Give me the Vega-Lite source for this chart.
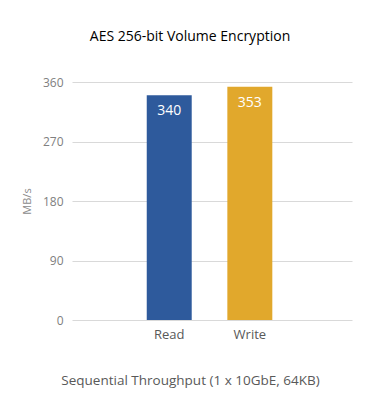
{
  "$schema": "https://vega.github.io/schema/vega-lite/v6.json",
  "width": 280,
  "height": 238,
  "autosize": {"type": "none"},
  "padding": {"left": 72, "top": 82, "right": 29, "bottom": 100},
  "background": "white",
  "title": {
    "text": "AES 256-bit Volume Encryption",
    "fontSize": 14,
    "font": "Open Sans",
    "fontWeight": "normal",
    "color": "#000000",
    "anchor": "middle",
    "dx": -22,
    "offset": 32
  },
  "data": {
    "values": [
      {"op": "Read", "value": 340},
      {"op": "Write", "value": 353}
    ]
  },
  "encoding": {
    "x": {
      "field": "op",
      "type": "nominal",
      "sort": ["Read", "Write"],
      "scale": {"paddingInner": 0.442, "paddingOuter": 0.958, "align": 0.484},
      "axis": {
        "title": "Sequential Throughput (1 x 10GbE, 64KB)",
        "titleFont": "Open Sans",
        "titleFontSize": 13.5,
        "titleFontWeight": "normal",
        "titleColor": "#595959",
        "titleX": 118,
        "titleY": 67,
        "titleAlign": "center",
        "titleBaseline": "bottom",
        "labelAngle": 0,
        "labelFont": "Open Sans",
        "labelFontSize": 13,
        "labelColor": "#595959",
        "labelPadding": 8,
        "ticks": false,
        "domain": false
      }
    },
    "y": {
      "field": "value",
      "type": "quantitative",
      "scale": {"domain": [0, 360], "nice": false},
      "axis": {
        "values": [0, 90, 180, 270, 360],
        "title": "MB/s",
        "titleFont": "Open Sans",
        "titleFontSize": 11,
        "titleFontWeight": "normal",
        "titleColor": "#8c8c8c",
        "titlePadding": 10,
        "labelFont": "Open Sans",
        "labelFontSize": 12,
        "labelColor": "#808080",
        "labelPadding": 9,
        "ticks": false,
        "domain": false,
        "gridColor": "#d9d9d9",
        "gridWidth": 1
      }
    }
  },
  "layer": [
    {
      "mark": {"type": "bar"},
      "encoding": {
        "color": {
          "field": "op",
          "type": "nominal",
          "scale": {"domain": ["Read", "Write"], "range": ["#2E5A9C", "#E1A82C"]},
          "legend": null
        }
      }
    },
    {
      "mark": {"type": "text", "baseline": "top", "dy": 9, "fontSize": 14, "font": "Open Sans", "color": "white"},
      "encoding": {"text": {"field": "value", "type": "quantitative"}}
    }
  ],
  "config": {"view": {"stroke": null}}
}
